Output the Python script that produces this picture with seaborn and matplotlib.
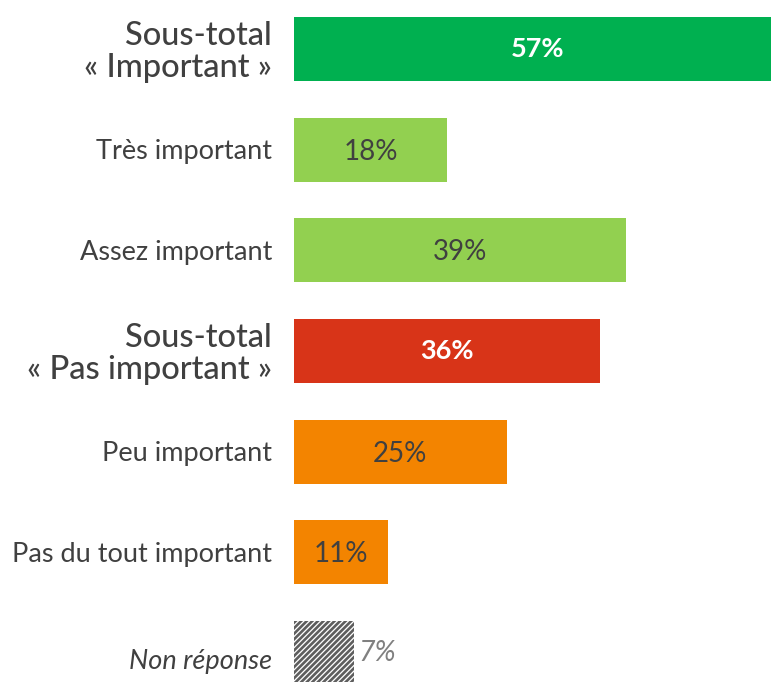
import pandas as pd
import matplotlib.pyplot as plt
import seaborn as sns

# values
labels = [
    "Sous-total\n« Important »",
    "Très important",
    "Assez important",
    "Sous-total\n« Pas important »",
    "Peu important",
    "Pas du tout important",
    "Non réponse",
]
values = [57, 18, 39, 36, 25, 11, 7]
colors = ["#00B050", "#92D050", "#92D050", "#D83418", "#F38400", "#F38400", "#FFFFFF"]
kinds = ["total", "item", "item", "total", "item", "item", "nr"]

df = pd.DataFrame({"label": labels, "value": values})

sns.set_theme(style="white")
plt.rcParams["font.family"] = ["Lato", "DejaVu Sans"]
plt.rcParams["hatch.linewidth"] = 1.9

fig = plt.figure(figsize=(7.71, 6.82), dpi=100)
ax = fig.add_axes([294 / 771, 0, 1 - 294 / 771, 1])

sns.barplot(
    data=df, x="value", y="label", hue="label", palette=colors,
    width=0.636, legend=False, ax=ax, saturation=1, linewidth=0,
)

# hatched "non réponse" bar
nr = ax.patches[-1]
nr.set_hatch("//////")
nr.set_edgecolor("#5E5E5E")
nr.set_facecolor("white")
nr.set_linewidth(0)

ax.set_xlim(0, 56.1)
ax.set_ylim(6.288, -0.487)
ax.set_xlabel("")
ax.set_ylabel("")
ax.set_xticks([])
ax.set_yticks([])
for s in ax.spines.values():
    s.set_visible(False)

for i, (lab, v, k) in enumerate(zip(labels, values, kinds)):
    if k == "total":
        ax.text(-2.6, i + 0.03, lab, ha="right", va="center", fontsize=23.5,
                color="#404040", linespacing=1.1, fontweight="medium")
        ax.text(v / 2 if v < 56 else 28.6, i, f"{v}%", ha="center", va="center",
                fontsize=19.5, color="white", fontweight="bold")
    elif k == "item":
        ax.text(-2.6, i + 0.02, lab, ha="right", va="center", fontsize=19.5, color="#404040")
        ax.text(v / 2, i + 0.02, f"{v}%", ha="center", va="center", fontsize=20, color="#404040")
    else:
        ax.text(-2.6, i + 0.08, lab, ha="right", va="center", fontsize=19.5,
                color="#404040", style="italic")
        ax.text(v + 0.6, i, f"{v}%", ha="left", va="center", fontsize=20.5,
                color="#808080", style="italic")

plt.savefig("out.png", dpi=100)
